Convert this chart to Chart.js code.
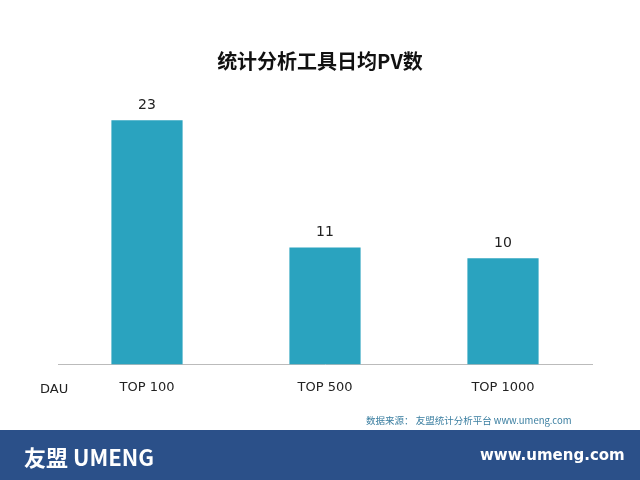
<!DOCTYPE html>
<html>
<head>
<meta charset="utf-8">
<script src="https://cdn.jsdelivr.net/npm/chart.js"></script>
<style>
  body { margin: 0; width: 640px; height: 480px; overflow: hidden; background: #fff; font-family: "Noto Sans CJK SC", "DejaVu Sans", sans-serif; }
  #wrap { position: absolute; left: 0; top: 0; width: 640px; height: 430px; }
  #title { position: absolute; top: 46px; width: 640px; text-align: center; font-size: 20px; font-weight: bold; color: #111; }
  #dau { position: absolute; left: 40px; top: 381px; font-size: 13px; color: #222; font-family: "DejaVu Sans", sans-serif; }
  #src { position: absolute; left: 366px; top: 413px; font-size: 9.5px; color: #3a7ea0; }
  #foot { position: absolute; left: 0; top: 430px; width: 640px; height: 50px; background: #2b5089; }
  #logo { position: absolute; left: 24px; top: 10px; color: #fff; font-size: 22px; font-weight: bold; }
  #url { position: absolute; left: 480px; top: 16px; color: #fff; font-size: 15px; font-weight: bold; font-family: "DejaVu Sans", sans-serif; }
</style>
</head>
<body>
<div id="wrap"><canvas id="myChart" width="640" height="430"></canvas></div>
<div id="title">统计分析工具日均PV数</div>
<div id="dau">DAU</div>
<div id="src">数据来源： 友盟统计分析平台 www.umeng.com</div>
<div id="foot"><div id="logo">友盟 UMENG</div><div id="url">www.umeng.com</div></div>
<script>
'use strict';

var categories = ['TOP 100', 'TOP 500', 'TOP 1000'];
var pvValues = [23, 11, 10];

// draw the number above each bar
var valueLabels = {
  id: 'valueLabels',
  afterDatasetsDraw: function(chart) {
    var ctx = chart.ctx;
    var meta = chart.getDatasetMeta(0);
    ctx.save();
    ctx.font = '14px "DejaVu Sans", sans-serif';
    ctx.fillStyle = '#222';
    ctx.textAlign = 'center';
    ctx.textBaseline = 'bottom';
    meta.data.forEach(function(bar, i) {
      ctx.fillText(pvValues[i], bar.x, bar.y - 8);
    });
    ctx.restore();
  }
};

var ctx = document.getElementById('myChart');
var myChart = new Chart(ctx, {
  type: 'bar',
  data: {
    labels: categories,
    datasets: [{
      data: pvValues,
      backgroundColor: '#2aa3bf',
      barPercentage: 0.4,
      categoryPercentage: 1
    }]
  },
  options: {
    responsive: false,
    animation: false,
    layout: { padding: { left: 58, right: 48, top: 99, bottom: 20 } },
    plugins: { legend: { display: false }, tooltip: { enabled: false } },
    scales: {
      x: {
        grid: { display: false, drawTicks: false },
        border: { color: '#bbb' },
        ticks: { color: '#222', font: { size: 13, family: 'DejaVu Sans' }, padding: 15 }
      },
      y: { display: false, min: 0, max: 25 }
    }
  },
  plugins: [valueLabels]
});
</script>
</body>
</html>
